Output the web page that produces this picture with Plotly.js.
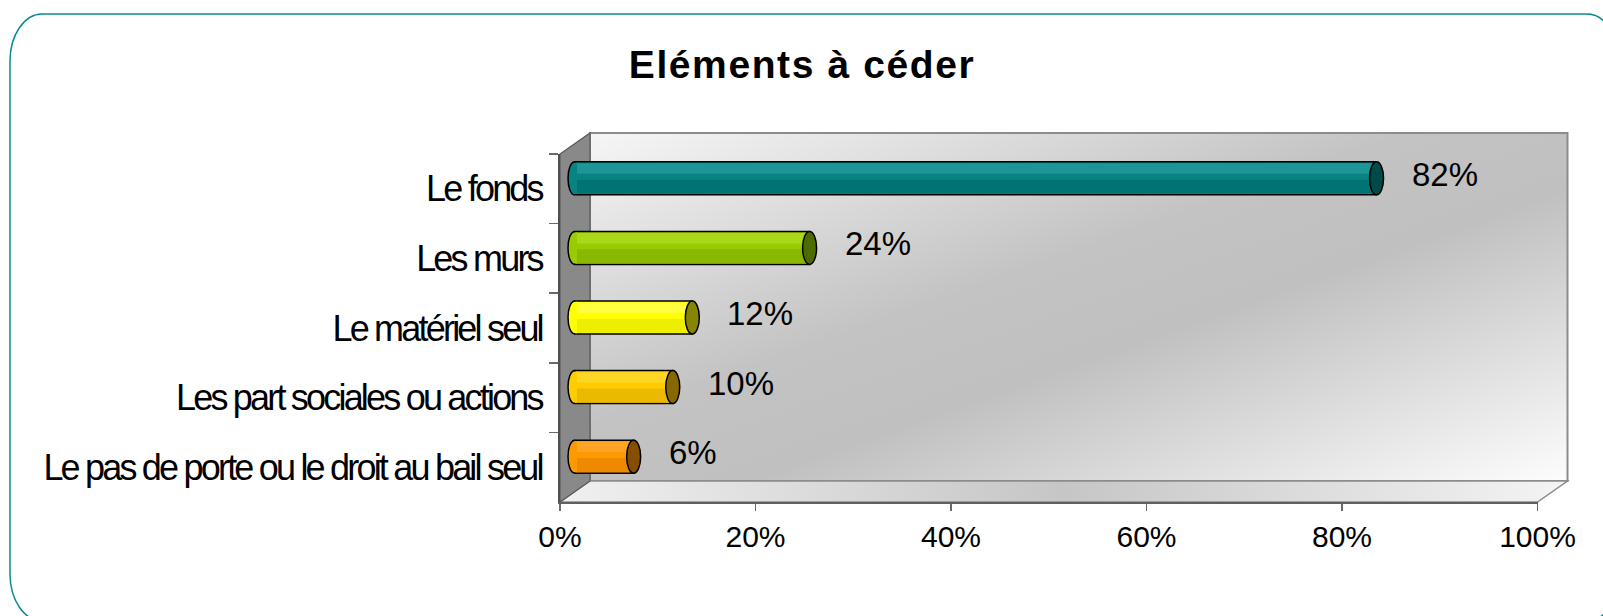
<!DOCTYPE html>
<html><head><meta charset="utf-8">
<script src="https://cdn.plot.ly/plotly-3.0.1.min.js"></script>
<style>
html,body{margin:0;padding:0;background:#fff;}
#chart{width:1603px;height:616px;}
.yaxislayer-above .ytick text{letter-spacing:-2.8px;}
.gtitle{letter-spacing:1.6px;}
</style></head><body><div id="chart"></div>
<script>
// ---- data ----
const categories = ["Le fonds", "Les murs", "Le matériel seul", "Les part sociales ou actions", "Le pas de porte ou le droit au bail seul"];
const values = [0.82, 0.24, 0.12, 0.10, 0.06];
const valueLabels = ["82%", "24%", "12%", "10%", "6%"];
const xTickVals = [0, 0.2, 0.4, 0.6, 0.8, 1];
const xTickText = ["0%", "20%", "40%", "60%", "80%", "100%"];
const chartTitle = "Eléments à céder";

// ---- styles ----
const mainColors  = ["#078383", "#99cc00", "#ffff00", "#ffcc00", "#ff9900"];
const lightColors = ["#1c9696", "#a9d81a", "#ffff40", "#ffd526", "#ffa424"];
const darkColors  = ["#007474", "#88b800", "#eeee00", "#eab900", "#ee8a00"];
const capColors   = ["#004a4a", "#4e6b00", "#868600", "#866800", "#864f00"];
const FONT = "Liberation Sans, Arial, sans-serif";

// ---- geometry (page px) ----
const W = 1603, H = 616;
const FX0 = 560, FX1 = 1537.5, FY0 = 154, FY1 = 502; // front plane
const DX = 30, DY = 21;                               // depth offset
const PAD = 20;                                       // room for the rounded bar ends
const fx = p => p / W;
const fy = p => 1 - p / H;

// back wall / floor / side wall as an svg image
const OX = 557, OY = 130, IW = 1014, IH = 375;
const lx = p => (p - OX).toFixed(1), ly = p => (p - OY).toFixed(1);
const svg =
`<svg xmlns='http://www.w3.org/2000/svg' width='${IW}' height='${IH}' viewBox='0 0 ${IW} ${IH}'>
<defs>
<linearGradient id='bw' x1='0' y1='0' x2='1' y2='1'>
<stop offset='0' stop-color='#f6f6f6'/><stop offset='0.42' stop-color='#c3c3c3'/><stop offset='0.58' stop-color='#c0c0c0'/><stop offset='1' stop-color='#fdfdfd'/>
</linearGradient>
<linearGradient id='fl' x1='0' y1='0' x2='1' y2='0'>
<stop offset='0' stop-color='#f0f0f0'/><stop offset='0.5' stop-color='#c6c6c6'/><stop offset='1' stop-color='#f4f4f4'/>
</linearGradient>
</defs>
<rect x='${lx(FX0+DX)}' y='${ly(FY0-DY)}' width='${FX1-FX0}' height='${FY1-FY0}' fill='url(#bw)' stroke='#8c8c8c' stroke-width='2'/>
<polygon points='${lx(FX0)},${ly(FY1)} ${lx(FX0+DX)},${ly(FY1-DY)} ${lx(FX1+DX)},${ly(FY1-DY)} ${lx(FX1)},${ly(FY1)}' fill='url(#fl)' stroke='#8c8c8c' stroke-width='1.5'/>
<polygon points='${lx(FX0)},${ly(FY0)} ${lx(FX0+DX)},${ly(FY0-DY)} ${lx(FX0+DX)},${ly(FY1-DY)} ${lx(FX0)},${ly(FY1)}' fill='#898989' stroke='#5a5a5a' stroke-width='1.2'/>
</svg>`;
const svgSrc = "data:image/svg+xml;charset=utf-8," + encodeURIComponent(svg);

// rounded border (elliptical corners)
function borderPath() {
  const L = 10, T = 14, R = 1619, B = 621, rx = 32, ry = 47, k = 0.5523;
  const P = (x, y) => `${fx(x)},${fy(y)}`;
  return `M ${P(L, T + ry)} C ${P(L, T + ry - k * ry)} ${P(L + rx - k * rx, T)} ${P(L + rx, T)} ` +
    `L ${P(R - rx, T)} C ${P(R - rx + k * rx, T)} ${P(R, T + ry - k * ry)} ${P(R, T + ry)} ` +
    `L ${P(R, B - ry)} C ${P(R, B - ry + k * ry)} ${P(R - rx + k * rx, B)} ${P(R - rx, B)} ` +
    `L ${P(L + rx, B)} C ${P(L + rx - k * rx, B)} ${P(L, B - ry + k * ry)} ${P(L, B - ry)} Z`;
}

const BW = 0.474, h = BW / 2;

const traces = [
  // invisible trace on the front (axis) subplot so its axes are drawn
  {type: "bar", orientation: "h", x: values, y: categories, xaxis: "x", yaxis: "y",
   width: BW, marker: {color: "rgba(0,0,0,0)", line: {width: 0}}, hoverinfo: "skip", showlegend: false},
  {type: "bar", orientation: "h", x: values, y: categories, xaxis: "x2", yaxis: "y2",
   width: BW, marker: {color: mainColors, line: {color: "#000", width: 1.5}}, hoverinfo: "skip", showlegend: false},
  {type: "bar", orientation: "h", x: values, y: categories, xaxis: "x2", yaxis: "y2",
   width: 0.15, offset: -0.215, marker: {color: lightColors, line: {width: 0}}, hoverinfo: "skip", showlegend: false},
  {type: "bar", orientation: "h", x: values, y: categories, xaxis: "x2", yaxis: "y2",
   width: 0.2, offset: 0.02, marker: {color: darkColors, line: {width: 0}}, hoverinfo: "skip", showlegend: false}
];

const shapes = [
  {type: "path", xref: "paper", yref: "paper", path: borderPath(), line: {color: "#0a8a8a", width: 1.5}, fillcolor: "rgba(0,0,0,0)", layer: "above"}
];
values.forEach((v, i) => {
  const t = i - h + 0.012, b = i + h - 0.012;
  shapes.push({type: "path", xref: "x2", yref: "y2", xsizemode: "pixel", xanchor: 0,
    path: `M 2,${t} L 0,${t} C -9.3,${t} -9.3,${b} 0,${b} L 2,${b} Z`,
    fillcolor: mainColors[i], line: {width: 0}, layer: "above"});
  shapes.push({type: "path", xref: "x2", yref: "y2", xsizemode: "pixel", xanchor: 0,
    path: `M 0,${i - h} C -9.3,${i - h} -9.3,${i + h} 0,${i + h}`,
    fillcolor: "rgba(0,0,0,0)", line: {color: "#000", width: 1.5}, layer: "above"});
  shapes.push({type: "circle", xref: "x2", yref: "y2", xsizemode: "pixel", xanchor: v,
    x0: -7, x1: 7, y0: i - h, y1: i + h,
    fillcolor: capColors[i], line: {color: "#000", width: 1.5}, layer: "above"});
});

const annotations = values.map((v, i) => ({
  xref: "x2", yref: "y2", x: v, y: categories[i], text: valueLabels[i], showarrow: false,
  xanchor: "left", xshift: 33, yshift: 4, font: {size: 33, color: "#000", family: FONT}
}));

const span = FX1 - FX0;
const layout = {
  width: W, height: H, margin: {l: 0, r: 0, t: 0, b: 0},
  paper_bgcolor: "#fff", plot_bgcolor: "rgba(0,0,0,0)",
  font: {family: FONT, color: "#000"},
  showlegend: false, barmode: "overlay",
  title: {text: chartTitle, font: {size: 39, family: FONT, color: "#000", weight: "bold"},
          x: 802 / W, xanchor: "center", xref: "paper", y: 1 - 64 / H, yanchor: "middle", yref: "container"},
  xaxis: {domain: [fx(FX0), fx(FX1)], range: [0, 1], anchor: "y", visible: true, tickvals: xTickVals, ticktext: xTickText,
          ticks: "outside", ticklen: 7, tickwidth: 1.5, tickcolor: "#6a6a6a", showline: true, linecolor: "#606060",
          linewidth: 2, showgrid: false, zeroline: false, ticklabelstandoff: 0,
          tickfont: {size: 30, family: FONT, color: "#000"}, fixedrange: true},
  yaxis: {domain: [fy(FY1), fy(FY0)], type: "category", categoryorder: "array", categoryarray: categories,
          range: [4.5, -0.5], anchor: "x", visible: true, ticks: "outside", ticklen: 9, tickwidth: 1.5, tickson: "boundaries",
          tickcolor: "#6a6a6a", showline: true, linecolor: "#505050", linewidth: 2, showgrid: false, zeroline: false,
          ticklabelstandoff: 9, tickfont: {size: 36, family: FONT, color: "#000"}, fixedrange: true},
  xaxis2: {domain: [fx(FX0 + DX / 2 - PAD), fx(FX1 + DX / 2)], range: [-PAD / span, 1], anchor: "y2", visible: false, fixedrange: true},
  yaxis2: {domain: [fy(FY1 - DY / 2), fy(FY0 - DY / 2)], type: "category", categoryorder: "array", categoryarray: categories,
           range: [4.5, -0.5], anchor: "x2", visible: false, fixedrange: true},
  images: [{source: svgSrc, xref: "paper", yref: "paper", x: fx(OX), y: fy(OY), sizex: IW / W, sizey: IH / H,
            xanchor: "left", yanchor: "top", sizing: "stretch", layer: "below"}],
  shapes: shapes,
  annotations: annotations
};

Plotly.newPlot("chart", traces, layout, {displayModeBar: false, staticPlot: true});
</script></body></html>
